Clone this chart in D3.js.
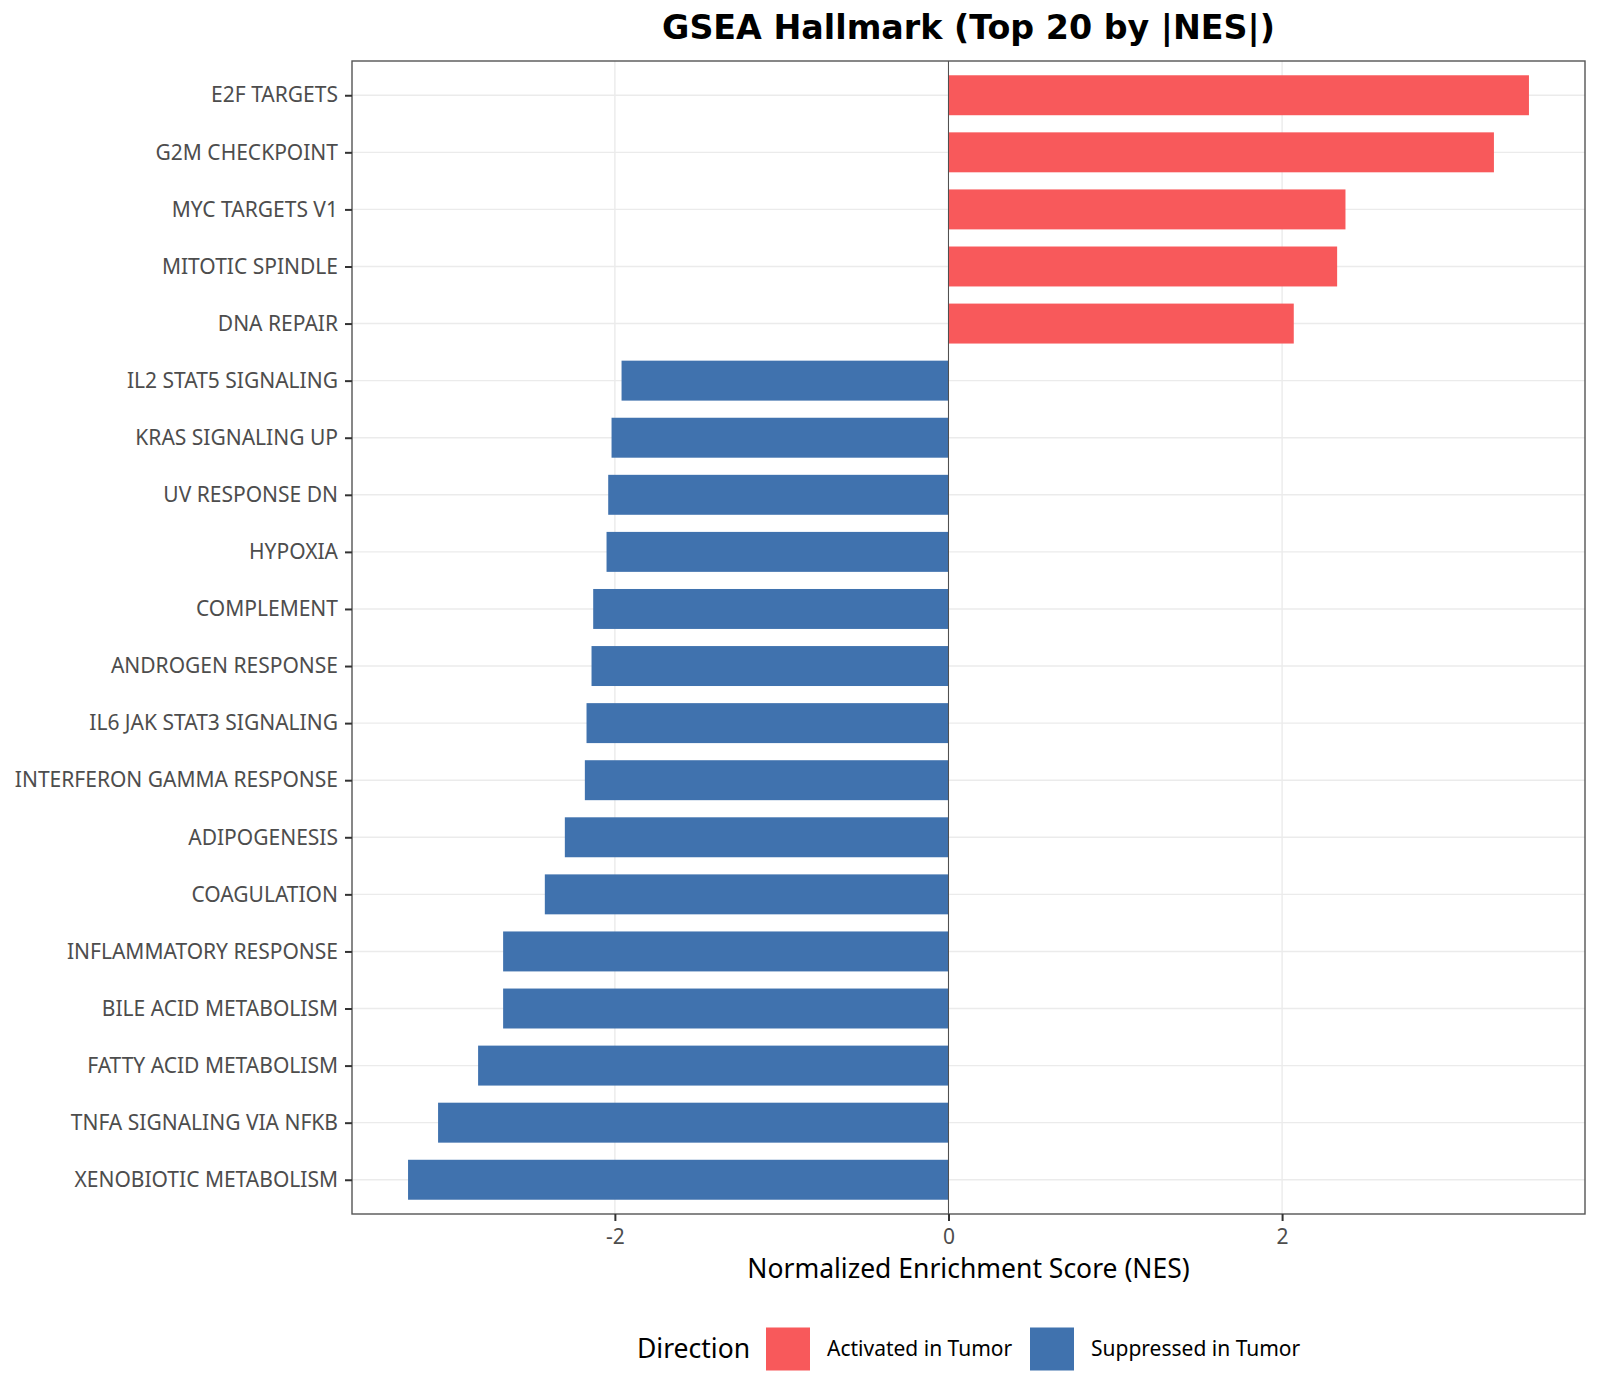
<!DOCTYPE html>
<html>
<head>
<meta charset="utf-8">
<script src="https://cdn.jsdelivr.net/npm/d3@7"></script>
<style>
  body { margin: 0; background: #fff; }
  svg { display: block; }
</style>
</head>
<body>
<div id="chart"></div>
<script>
const WIDTH = 1600, HEIGHT = 1400
const MARGIN = { top: 61, right: 15, bottom: 186, left: 352 }

// pathways, top to bottom
const pathways = [
  'E2F TARGETS', 'G2M CHECKPOINT', 'MYC TARGETS V1', 'MITOTIC SPINDLE', 'DNA REPAIR',
  'IL2 STAT5 SIGNALING', 'KRAS SIGNALING UP', 'UV RESPONSE DN', 'HYPOXIA', 'COMPLEMENT',
  'ANDROGEN RESPONSE', 'IL6 JAK STAT3 SIGNALING', 'INTERFERON GAMMA RESPONSE', 'ADIPOGENESIS',
  'COAGULATION', 'INFLAMMATORY RESPONSE', 'BILE ACID METABOLISM', 'FATTY ACID METABOLISM',
  'TNFA SIGNALING VIA NFKB', 'XENOBIOTIC METABOLISM'
]
const nes = [
  3.48, 3.27, 2.38, 2.33, 2.07,
  -1.96, -2.02, -2.04, -2.05, -2.13,
  -2.14, -2.17, -2.18, -2.30,
  -2.42, -2.67, -2.67, -2.82,
  -3.06, -3.24
]
const directions = ['Activated in Tumor', 'Suppressed in Tumor']
const dirColors = ['#F8595B', '#4072AE']
const xTicks = [-2, 0, 2]

const data = pathways.map((p, i) => ({
  pathway: p, nes: nes[i], dir: nes[i] > 0 ? directions[0] : directions[1]
}))

const W = WIDTH - MARGIN.left - MARGIN.right
const H = HEIGHT - MARGIN.top - MARGIN.bottom

const svg = d3.select('#chart').append('svg').attr('width', WIDTH).attr('height', HEIGHT)
  .style('font-family', '"Noto Sans", sans-serif')
const g = svg.append('g').attr('transform', `translate(${MARGIN.left},${MARGIN.top})`)

// ggplot-like 5% expansion
const [lo, hi] = d3.extent(nes)
const pad = (hi - lo) * 0.05
const x = d3.scaleLinear().domain([lo - pad, hi + pad]).range([0, W])
const y = d3.scalePoint().domain(pathways).range([0, H]).padding(0.6)
const barH = y.step() * 0.7
const color = d3.scaleOrdinal().domain(directions).range(dirColors)

// grid
g.append('g').selectAll('line').data(pathways).join('line')
  .attr('x1', 0).attr('x2', W).attr('y1', d => y(d)).attr('y2', d => y(d))
  .attr('stroke', '#EBEBEB').attr('stroke-width', 1.4)
g.append('g').selectAll('line').data(xTicks).join('line')
  .attr('x1', d => x(d)).attr('x2', d => x(d)).attr('y1', 0).attr('y2', H)
  .attr('stroke', '#EBEBEB').attr('stroke-width', 1.4)

// bars
g.append('g').selectAll('rect').data(data).join('rect')
  .attr('x', d => x(Math.min(0, d.nes)))
  .attr('width', d => Math.abs(x(d.nes) - x(0)))
  .attr('y', d => y(d.pathway) - barH / 2)
  .attr('height', barH)
  .attr('fill', d => color(d.dir))

// zero line
g.append('line').attr('x1', x(0)).attr('x2', x(0)).attr('y1', 0).attr('y2', H)
  .attr('stroke', '#4d4d4d').attr('stroke-width', 1)

// panel border
g.append('rect').attr('width', W).attr('height', H)
  .attr('fill', 'none').attr('stroke', '#555').attr('stroke-width', 1.4)

// ── axes ─────────────────────────────────────────────────────
const yAxis = g.append('g').call(d3.axisLeft(y).tickSize(7).tickPadding(7))
yAxis.select('.domain').remove()
yAxis.selectAll('line').attr('stroke', '#333').attr('stroke-width', 2)
yAxis.selectAll('text').attr('fill', '#4d4d4d').style('font-size', '21px')
  .style('font-family', '"Noto Sans", sans-serif')

const xAxis = g.append('g').attr('transform', `translate(0,${H})`)
  .call(d3.axisBottom(x).tickValues(xTicks).tickSize(7).tickPadding(8).tickFormat(d => String(d)))
xAxis.select('.domain').remove()
xAxis.selectAll('line').attr('stroke', '#333').attr('stroke-width', 2)
xAxis.selectAll('text').attr('fill', '#4d4d4d').style('font-size', '21px')
  .style('font-family', '"Noto Sans", sans-serif')

g.append('text').attr('x', W / 2).attr('y', H + 64)
  .attr('text-anchor', 'middle').style('font-size', '26.5px').attr('fill', '#000')
  .text('Normalized Enrichment Score (NES)')

// title
svg.append('text').attr('x', MARGIN.left + W / 2).attr('y', 39)
  .attr('text-anchor', 'middle').style('font-size', '33.3px').style('font-weight', 'bold')
  .style('font-family', '"DejaVu Sans", sans-serif')
  .text('GSEA Hallmark (Top 20 by |NES|)')

// legend
const leg = svg.append('g').attr('transform', 'translate(0,1349)')
leg.append('text').attr('x', 637).attr('y', 0).attr('dy', '0.35em')
  .style('font-size', '26.5px').text('Direction')
const keyX = [766, 1030]
directions.forEach((d, i) => {
  leg.append('rect').attr('x', keyX[i]).attr('y', -21.5).attr('width', 44).attr('height', 43)
    .attr('fill', color(d))
  leg.append('text').attr('x', keyX[i] + 61).attr('y', 0).attr('dy', '0.35em')
    .style('font-size', '21px').text(d)
})
</script>
</body>
</html>
